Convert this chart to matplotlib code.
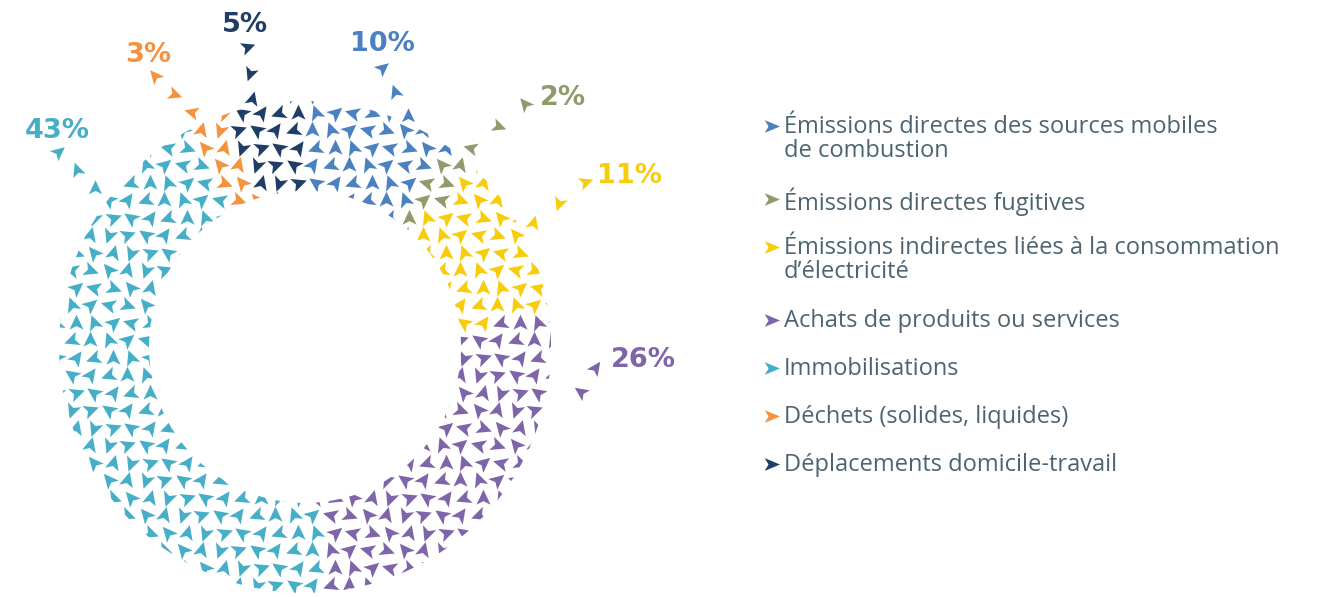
import numpy as np
import matplotlib.pyplot as plt
from matplotlib.path import Path
from matplotlib.markers import MarkerStyle
from matplotlib.transforms import Affine2D
from matplotlib.patches import Wedge

# data (clockwise from 12 o'clock)
labels = ['Émissions directes des sources mobiles\nde combustion',
          'Émissions directes fugitives',
          'Émissions indirectes liées à la consommation\nd’électricité',
          'Achats de produits ou services',
          'Immobilisations',
          'Déchets (solides, liquides)',
          'Déplacements domicile-travail']
shares = [10, 2, 11, 26, 43, 3, 5]
pct_labels = ['10%', '2%', '11%', '26%', '43%', '3%', '5%']
colors = ['#4b80c1', '#8e9b6b', '#f7cc0a', '#7e64a9', '#46afc7', '#f4923e', '#1f3d66']

# layout (pixel coords, y down)
cx, cy = 305, 347
r_out, r_in = 246, 156
label_xy = [(382, 44), (563, 98), (630, 176), (643, 360), (57, 131), (148, 55), (245, 25)]
trail_start = [(408, 116), (471, 148), (533, 223), (581, 392), (95, 188), (192, 112), (252, 99)]
trail_end = [(382, 68), (525, 104), (585, 182), (595, 368), (58, 152), (155, 76), (247, 47)]
trail_n = [3, 3, 3, 2, 3, 3, 3]
rots = [0, 40, -35, 75, -70, 20, -15, 110, -110, 55, -50, 160]

# arrowhead shape, tip pointing up
arrow = Path([(0, 1), (0.8, -0.7), (0, -0.3), (-0.8, -0.7), (0, 1)],
             [Path.MOVETO, Path.LINETO, Path.LINETO, Path.LINETO, Path.CLOSEPOLY])
pointer = Path([(1, 0), (-0.8, 0.75), (-0.35, 0), (-0.8, -0.75), (1, 0)],
               [Path.MOVETO, Path.LINETO, Path.LINETO, Path.LINETO, Path.CLOSEPOLY])

def mk(a):
    return MarkerStyle(arrow, transform=Affine2D().rotate_deg(a))

fig = plt.figure(figsize=(13.32, 5.97), dpi=100)
ax = fig.add_axes([0, 0, 1, 1])
ax.set_xlim(0, 1332)
ax.set_ylim(597, 0)
ax.axis('off')

# grid of arrows inside the ring
bounds = np.cumsum([0] + shares) * 3.6
xs = np.arange(cx - 252, cx + 253, 18.5)
ys = np.arange(cy - 252, cy + 253, 17.5)
pts = {}
for i, y in enumerate(ys):
    for j, x in enumerate(xs):
        xx = x + (4 if i % 2 else 0)
        r = np.hypot(xx - cx, y - cy)
        if r < r_in - 7 or r > r_out + 7:
            continue
        ang = np.degrees(np.arctan2(-(y - cy), xx - cx))
        cw = (90 - ang) % 360
        k = np.searchsorted(bounds, cw, side='right') - 1
        k = min(k, len(shares) - 1)
        ri = (i * 7 + j * 5) % len(rots)
        pts.setdefault((k, ri), []).append((xx, y))

clip = Wedge((cx, cy), r_out, 0, 360, width=r_out - r_in, transform=ax.transData)
for (k, ri), p in pts.items():
    p = np.array(p)
    sc = ax.scatter(p[:, 0], p[:, 1], marker=mk(rots[ri]), s=160,
                    color=colors[k], linewidths=0)
    sc.set_clip_path(clip)

# percentage labels with arrow trails
for k in range(len(shares)):
    (x0, y0), (x1, y1) = trail_start[k], trail_end[k]
    n = trail_n[k]
    for t in range(n):
        f = t / max(n - 1, 1)
        ax.scatter(x0 + (x1 - x0) * f, y0 + (y1 - y0) * f,
                   marker=mk(rots[(k * 3 + t * 5) % len(rots)]), s=140,
                   color=colors[k], linewidths=0)
    ax.text(label_xy[k][0], label_xy[k][1], pct_labels[k], color=colors[k],
            fontsize=19.5, fontweight='bold', family='DejaVu Sans',
            ha='center', va='center')

# legend
y = 126
for k, lab in enumerate(labels):
    ax.scatter(771, y, marker=pointer, s=150, color=colors[k], linewidths=0)
    ax.text(784, y - 11, lab, color='#4d6470', fontsize=17, family='Open Sans',
            ha='left', va='top', linespacing=0.98)
    y += 25 * lab.count('\n') + 48

plt.savefig('out.png', dpi=100)
